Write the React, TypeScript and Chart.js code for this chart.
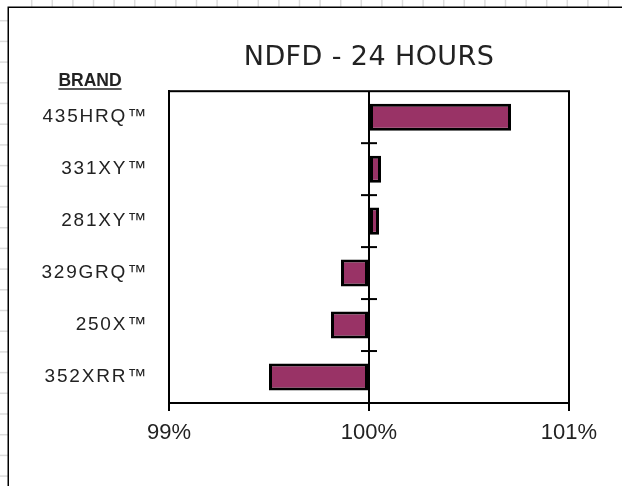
import React, { useEffect, useRef } from 'react';
import { Chart, registerables } from 'chart.js';

Chart.register(...registerables);

const brands = ['435HRQ™', '331XY™', '281XY™', '329GRQ™', '250X™', '352XRR™'];
const ndfd24h = [100.71, 100.06, 100.05, 99.86, 99.81, 99.5];
const baseline = 100;
const xTicks = [99, 100, 101];
const chartTitle = 'NDFD - 24 HOURS';
const axisHeader = 'BRAND';

export default function App() {
  const ref = useRef<HTMLCanvasElement>(null);

  useEffect(() => {
    const canvas = ref.current;
    if (!canvas) return;

    const decor = {
      id: 'decor',
      beforeDraw(chart: any) {
        const { ctx, width, height } = chart;
        ctx.save();
        ctx.fillStyle = '#ffffff';
        ctx.fillRect(0, 0, width, height);
        ctx.strokeStyle = '#dcdcdc';
        ctx.lineWidth = 1.5;
        for (let x = 31.7; x < width; x += 20.6) {
          ctx.beginPath();
          ctx.moveTo(x, 0);
          ctx.lineTo(x, 7);
          ctx.stroke();
        }
        for (let y = 20.7; y < height; y += 20.7) {
          ctx.beginPath();
          ctx.moveTo(0, y);
          ctx.lineTo(8, y);
          ctx.stroke();
        }
        ctx.strokeStyle = '#000';
        ctx.lineWidth = 1.5;
        ctx.beginPath();
        ctx.moveTo(8.25, height);
        ctx.lineTo(8.25, 7.25);
        ctx.lineTo(width, 7.25);
        ctx.stroke();
        ctx.restore();

        const ys = chart.scales.y as any;
        if (ys && !ys.__ls) {
          const orig = ys.drawLabels;
          ys.drawLabels = function (area: any) {
            const c = this.ctx;
            c.save();
            c.letterSpacing = '1.8px';
            orig.call(this, area);
            c.restore();
          };
          ys.__ls = true;
        }
        const tb = chart.titleBlock as any;
        if (tb && !tb.__ls) {
          const origT = tb.draw;
          tb.draw = function (...args: any[]) {
            const c = this.ctx;
            c.save();
            c.letterSpacing = '0.4px';
            origT.apply(this, args);
            c.restore();
          };
          tb.__ls = true;
        }
      },
      afterDraw(chart: any) {
        const { ctx, chartArea: a, scales } = chart;
        ctx.save();
        ctx.strokeStyle = '#000';
        ctx.lineWidth = 2;
        ctx.strokeRect(a.left, a.top, a.right - a.left, a.bottom - a.top);
        const xs = scales.x.getPixelForValue(baseline);
        for (let i = 0; i < brands.length - 1; i++) {
          const yy = (scales.y.getPixelForValue(i) + scales.y.getPixelForValue(i + 1)) / 2;
          ctx.beginPath();
          ctx.moveTo(xs - 8, yy);
          ctx.lineTo(xs + 8, yy);
          ctx.stroke();
        }
        ctx.fillStyle = '#222';
        ctx.font = 'bold 17.5px "Liberation Sans", Arial, sans-serif';
        ctx.textAlign = 'center';
        ctx.textBaseline = 'alphabetic';
        ctx.fillText(axisHeader, 90, 86);
        const w = ctx.measureText(axisHeader).width;
        ctx.strokeStyle = '#222';
        ctx.lineWidth = 1.5;
        ctx.beginPath();
        ctx.moveTo(90 - w / 2, 89);
        ctx.lineTo(90 + w / 2, 89);
        ctx.stroke();
        ctx.restore();
      },
    };

    const chart = new Chart(canvas, {
      type: 'bar',
      data: {
        labels: brands,
        datasets: [
          {
            data: ndfd24h,
            base: baseline,
            backgroundColor: '#993366',
            borderColor: '#000',
            borderWidth: 3,
            borderSkipped: false,
            categoryPercentage: 1,
            barPercentage: 0.52,
          } as any,
        ],
      },
      options: {
        indexAxis: 'y',
        responsive: false,
        animation: false,
        devicePixelRatio: 1,
        layout: { padding: { left: 0, right: 53, top: 0, bottom: 0 } },
        plugins: {
          legend: { display: false },
          tooltip: { enabled: false },
          title: {
            display: true,
            text: chartTitle,
            fullSize: false,
            color: '#222',
            font: { family: '"DejaVu Sans", sans-serif', size: 27, weight: 'normal', lineHeight: 1.2 },
            padding: { top: 41.5, bottom: 17.3 },
          },
        },
        scales: {
          x: {
            type: 'linear',
            min: xTicks[0],
            max: xTicks[xTicks.length - 1],
            afterBuildTicks: (s: any) => {
              s.ticks = xTicks.map((v) => ({ value: v }));
            },
            ticks: {
              callback: (v: any) => v + '%',
              color: '#222',
              font: { family: '"Liberation Sans", Arial, sans-serif', size: 22 },
              padding: 9,
              maxRotation: 0,
            },
            grid: { color: '#000', lineWidth: 2, drawOnChartArea: true, drawTicks: true, tickLength: 8 },
            border: { display: true, color: '#000', width: 2 },
            afterFit: (s: any) => {
              s.height = 83;
            },
          },
          y: {
            ticks: {
              color: '#222',
              font: { family: '"Liberation Sans", Arial, sans-serif', size: 19 },
              padding: 21,
            },
            grid: { display: false, drawTicks: false },
            border: { display: true, color: '#000', width: 2 },
            afterFit: (s: any) => {
              s.width = 169;
            },
          },
        },
      } as any,
      plugins: [decor],
    });

    return () => chart.destroy();
  }, []);

  return (
    <div style={{ position: 'fixed', left: 0, top: 0, width: 622, height: 486 }}>
      <canvas ref={ref} width={622} height={486} style={{ display: 'block' }} />
    </div>
  );
}
